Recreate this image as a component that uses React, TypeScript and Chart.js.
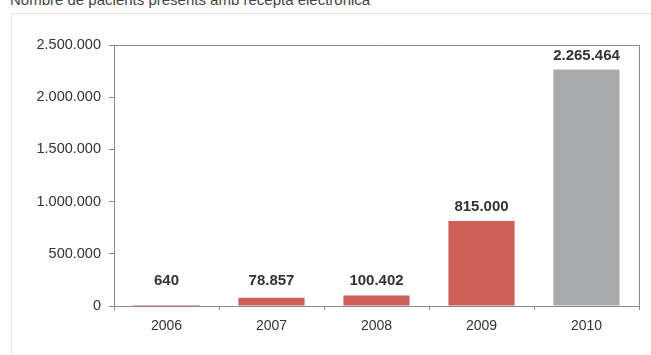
import React, { useEffect, useRef } from "react";
import { Chart, registerables } from "chart.js";

Chart.register(...registerables);

const title = "Nombre de pacients presents amb recepta electrònica";
const years = ["2006", "2007", "2008", "2009", "2010"];
const patients = [640, 78857, 100402, 815000, 2265464];
const valueLabels = ["640", "78.857", "100.402", "815.000", "2.265.464"];
const barColors = ["#cf5f59", "#cf5f59", "#cf5f59", "#cf5f59", "#a9aaac"];
const yTickLabels = ["0", "500.000", "1.000.000", "1.500.000", "2.000.000", "2.500.000"];

const FONT = "'Liberation Sans', Arial, Helvetica, sans-serif";

const frameAndLabels = {
  id: "frameAndLabels",
  afterDatasetsDraw(chart: any) {
    const { ctx, chartArea } = chart;
    ctx.save();
    ctx.strokeStyle = "#8a8a8a";
    ctx.lineWidth = 1;
    ctx.beginPath();
    ctx.moveTo(chartArea.left, chartArea.top + 0.5);
    ctx.lineTo(chartArea.right + 0.5, chartArea.top + 0.5);
    ctx.lineTo(chartArea.right + 0.5, chartArea.bottom);
    ctx.stroke();
    const meta = chart.getDatasetMeta(0);
    ctx.fillStyle = "#333333";
    ctx.font = "bold 15px " + FONT;
    ctx.textAlign = "center";
    ctx.textBaseline = "middle";
    meta.data.forEach((bar: any, i: number) => {
      const y = Math.min(bar.y - 14, chartArea.bottom - 25);
      ctx.fillText(valueLabels[i], bar.x, y);
    });
    ctx.restore();
  },
};

export default function App() {
  const ref = useRef<HTMLCanvasElement>(null);
  useEffect(() => {
    document.body.style.margin = "0";
    const chart = new Chart(ref.current!, {
      type: "bar",
      data: {
        labels: years,
        datasets: [
          {
            data: patients,
            backgroundColor: barColors,
            barPercentage: 0.63,
            categoryPercentage: 1,
          },
        ],
      },
      plugins: [frameAndLabels],
      options: {
        animation: false,
        responsive: false,
        maintainAspectRatio: false,
        layout: { padding: { left: 0, top: 45, right: 12, bottom: 0 } },
        plugins: { legend: { display: false }, tooltip: { enabled: false }, title: { display: false } },
        scales: {
          x: {
            grid: { drawOnChartArea: false, drawTicks: true, tickLength: 4, color: "#8a8a8a", offset: true },
            border: { display: true, color: "#8a8a8a" },
            ticks: { color: "#333", font: { family: FONT, size: 14 }, padding: 8 },
            afterFit: (s: any) => { s.height = 49; },
          },
          y: {
            min: 0,
            max: 2500000,
            grid: { drawOnChartArea: false, drawTicks: true, tickLength: 5, color: "#8a8a8a" },
            border: { display: true, color: "#8a8a8a" },
            ticks: {
              stepSize: 500000,
              color: "#333",
              font: { family: FONT, size: 14.5 },
              padding: 8,
              callback: (v: any) => yTickLabels[Math.round(Number(v) / 500000)],
            },
            afterFit: (s: any) => { s.width = 114; },
          },
        },
      },
    });
    return () => chart.destroy();
  }, []);
  return (
    <div style={{ position: "relative", width: 651, height: 355, overflow: "hidden", background: "#fff" }}>
      <div
        style={{
          position: "absolute",
          left: 10,
          top: -9,
          fontFamily: FONT,
          fontSize: 15,
          lineHeight: "17px",
          color: "#444",
          whiteSpace: "nowrap",
        }}
      >
        {title}
      </div>
      <div
        style={{
          position: "absolute",
          left: 11,
          top: 13,
          width: 660,
          height: 360,
          border: "1px solid #e6e6e6",
        }}
      />
      <canvas ref={ref} width={651} height={355} style={{ position: "absolute", left: 0, top: 0 }} />
    </div>
  );
}
